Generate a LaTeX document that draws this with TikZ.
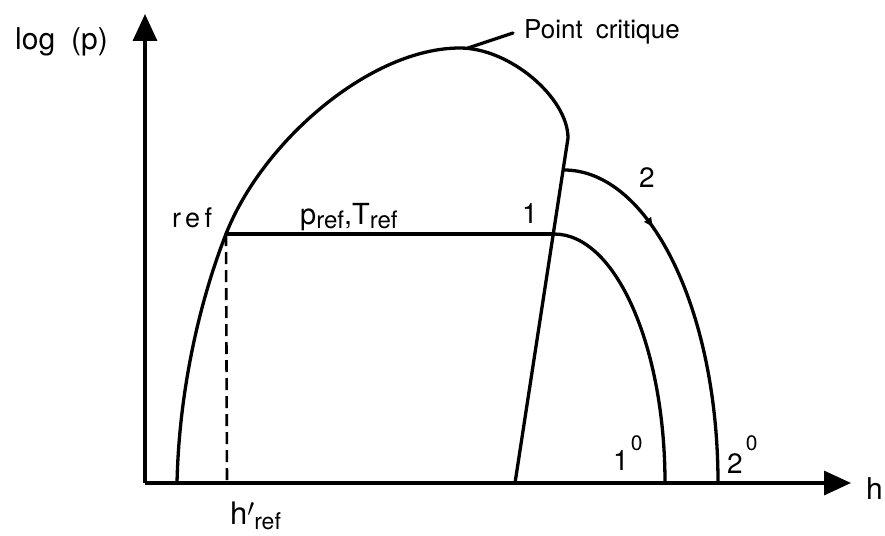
\documentclass[tikz,border=0pt]{standalone}
\usepackage{fontspec}
\setmainfont{TeX Gyre Heros}
\newfontfamily\widefont[LetterSpace=16]{TeX Gyre Heros}
\usetikzlibrary{arrows.meta,decorations.markings}
\tikzset{
  curve/.style={line width=3.3pt, line cap=round, line join=round},
  axis/.style={line width=3.3pt, -{Triangle[length=27pt,width=24pt]}},
  lbl/.style={inner sep=0pt, anchor=base west},
  midarrow/.style={decoration={markings, mark=at position #1 with {\arrow{Triangle[length=9pt,width=8pt]}}}, postaction={decorate}}
}
\begin{document}
\begin{tikzpicture}[x=1pt,y=-1pt]
\useasboundingbox (0,0) rectangle (885,535);
% key points
\coordinate (O) at (145,483);
\coordinate (ytip) at (145,14);
\coordinate (xtip) at (851,483);
\coordinate (A) at (177,483);
\coordinate (ref) at (226,234);
\coordinate (cp) at (460,48);
\coordinate (D) at (568,138);
\coordinate (B) at (515,483);
\coordinate (one) at (554,234);
\coordinate (two) at (564,170);
\coordinate (onezero) at (665,483);
\coordinate (twozero) at (718,483);
\coordinate (href) at (227,483);
\coordinate (lead) at (513,33);
% axes
\draw[axis] (O) -- (ytip);
\draw[axis] (O) -- (xtip);
% saturation dome
\draw[curve] (A) .. controls (179,390) and (200,300) .. (ref)
  .. controls (262,142) and (370,48) .. (cp)
  .. controls (510,48) and (568,98) .. (D) -- (B);
% leader to critical point
\draw[curve] ([xshift=8pt]cp) -- (lead);
% isobar at reference
\draw[curve] (ref) -- (one);
\draw[line width=2.6pt, dash pattern=on 12pt off 6pt] (ref) -- (href);
% curves 1 and 2
\draw[curve] (one) .. controls (616,234) and (665,347) .. (onezero);
\draw[curve, midarrow=0.29] (two) .. controls (649.5,170) and (718,310) .. (twozero);
% labels
\node[lbl, font=\fontsize{30}{30}\selectfont] (ylab) at (15,49) {log\hspace{16pt}(p)};
\node[lbl, font=\fontsize{30}{30}\selectfont] (xlab) at (866,499) {h};
\node[lbl, font=\fontsize{26}{26}\selectfont] (cplab) at (524,39) {Point\hspace{13pt}critique};
\node[lbl, font=\fontsize{27}{27}\widefont] (reflab) at (172,227) {ref};
\node[lbl, font=\fontsize{29}{29}\selectfont] (ptlab) at (300,224) {p\raisebox{-4pt}{\fontsize{24}{24}\selectfont ref},T\raisebox{-4pt}{\fontsize{24}{24}\selectfont ref}};
\node[lbl, font=\fontsize{28}{28}\selectfont] (onelab) at (522,223) {1};
\node[lbl, font=\fontsize{28}{28}\selectfont] (twolab) at (639,187) {2};
\node[lbl, font=\fontsize{28}{28}\selectfont] (onezlab) at (613,470) {1\hspace{2pt}\raisebox{20pt}{\fontsize{21}{21}\selectfont 0}};
\node[lbl, font=\fontsize{28}{28}\selectfont] (twozlab) at (727,473) {2\hspace{3pt}\raisebox{23pt}{\fontsize{21}{21}\selectfont 0}};
\node[lbl, font=\fontsize{31}{31}\selectfont] (hreflab) at (230,524) {h\raisebox{8pt}{$\prime$}\raisebox{-5pt}{\fontsize{23}{23}\selectfont ref}};
\end{tikzpicture}
\end{document}
